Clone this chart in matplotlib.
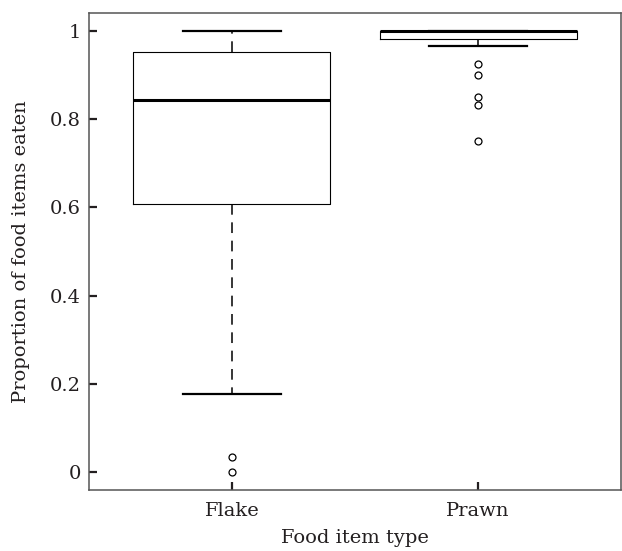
import matplotlib
matplotlib.use('Agg')
import matplotlib.pyplot as plt

# Box statistics (proportion of food items eaten)
food_types = ['Flake', 'Prawn']
medians = [0.843, 1.0]
q1s = [0.608, 0.983]
q3s = [0.952, 1.0]
whisker_lo = [0.177, 0.967]
whisker_hi = [1.0, 1.0]
flake_outliers = [0.033, 0.0]
prawn_outliers = [0.925, 0.9, 0.85, 0.833, 0.75]

y_ticks = [0, 0.2, 0.4, 0.6, 0.8, 1.0]
y_tick_labels = ['0', '0.2', '0.4', '0.6', '0.8', '1']

plt.rcParams['font.family'] = ['DejaVu Serif']

stats = []
for i, name in enumerate(food_types):
    stats.append({
        'label': name,
        'med': medians[i],
        'q1': q1s[i],
        'q3': q3s[i],
        'whislo': whisker_lo[i],
        'whishi': whisker_hi[i],
        'fliers': [flake_outliers, prawn_outliers][i],
    })

fig = plt.figure(figsize=(6.22, 5.51), dpi=100)
ax = fig.add_axes([89 / 622, 61 / 551, 532 / 622, 477 / 551])

ax.bxp(stats, positions=[1, 2], widths=0.8, showfliers=True,
       boxprops=dict(color='black', linewidth=0.8),
       medianprops=dict(color='black', linewidth=2.2),
       whiskerprops=dict(color='black', linewidth=1.1, linestyle=(0, (7, 5))),
       capprops=dict(color='black', linewidth=1.6),
       capwidths=0.4,
       flierprops=dict(marker='o', markerfacecolor='none', markeredgecolor='black',
                       markersize=5, markeredgewidth=0.9))

ax.set_xlim(0.42, 2.58)
ax.set_ylim(-0.041, 1.041)
ax.set_yticks(y_ticks)
ax.set_yticklabels(y_tick_labels)
ax.set_xticks([1, 2])
ax.set_xticklabels(food_types)

ax.tick_params(direction='in', length=6, width=1.6, colors='#231f20',
               labelsize=14, labelcolor='#231f20')
ax.tick_params(axis='x', pad=9)
ax.tick_params(axis='y', pad=6)
for s in ax.spines.values():
    s.set_color('#555555')
    s.set_linewidth(1.1)

ax.set_xlabel('Food item type', fontsize=14, color='#231f20', labelpad=6)
ax.set_ylabel('Proportion of food items eaten', fontsize=14, color='#231f20', labelpad=14)

fig.savefig('out.png', dpi=100)
